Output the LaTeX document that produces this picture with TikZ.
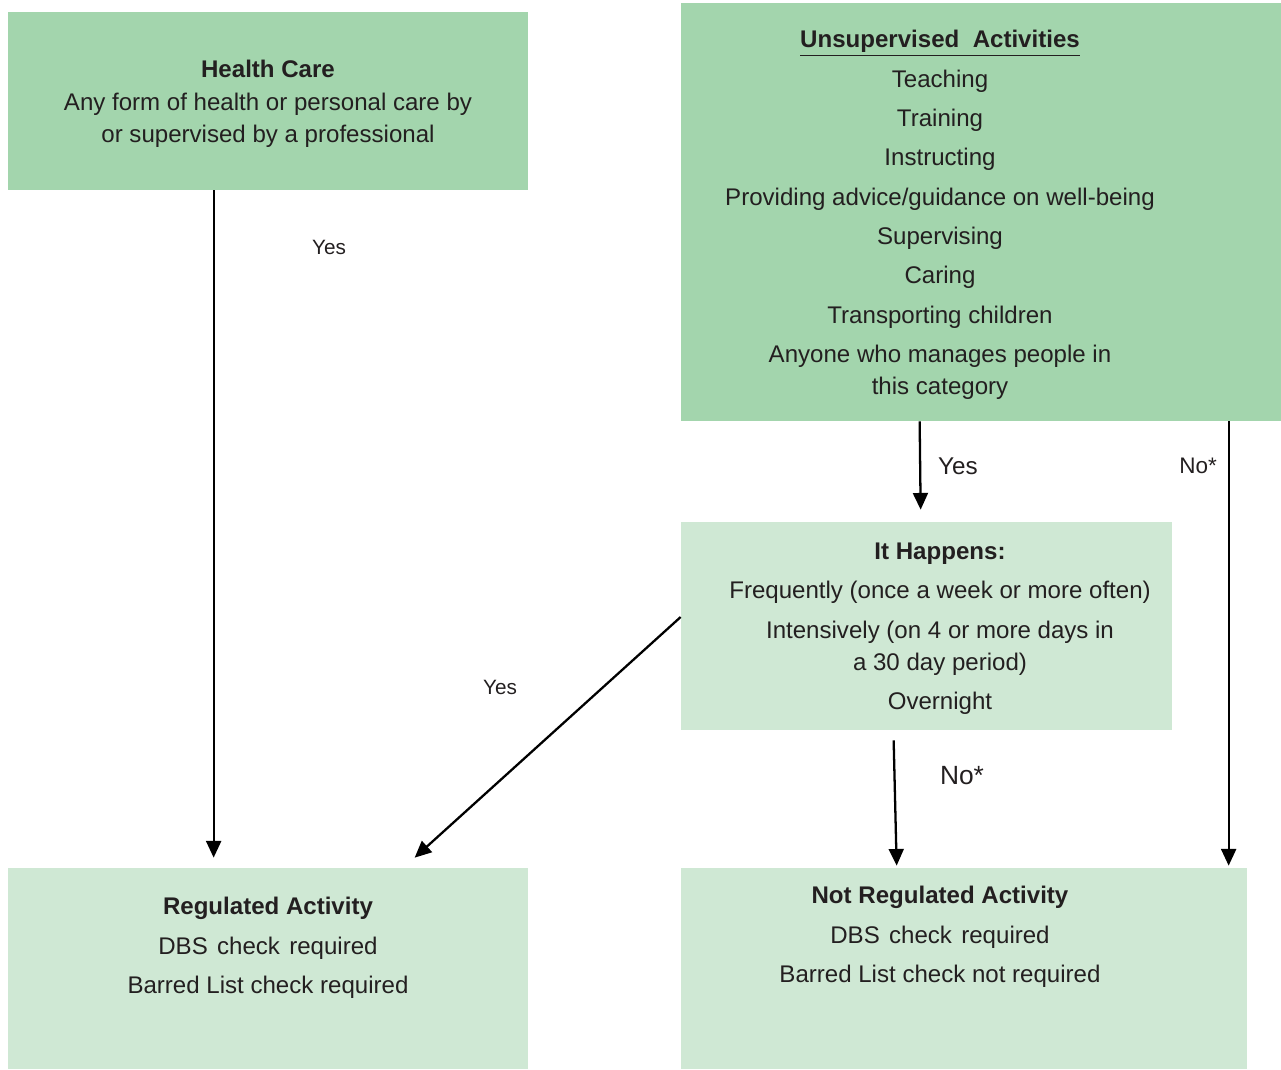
\documentclass[tikz,border=0pt]{standalone}
\usepackage{fontspec}
\setmainfont{Liberation Sans}
\usetikzlibrary{arrows.meta,calc,fit}
\definecolor{boxdark}{RGB}{163,213,173}
\definecolor{boxlight}{RGB}{207,232,212}
\definecolor{inkgrey}{RGB}{35,31,32}

\begin{document}
\begin{tikzpicture}[x=0.02cm,y=-0.02cm,
  darkbox/.style={fill=boxdark,inner sep=0pt},
  lightbox/.style={fill=boxlight,inner sep=0pt},
  boxtext/.style={align=center,text=inkgrey,font=\fontsize{13.7}{18.4}\selectfont},
  flow/.style={-{Triangle[length=9.5pt,width=8.5pt]},line width=1.3pt},
  answer/.style={text=inkgrey,font=\fontsize{#1}{#1}\selectfont}]
\useasboundingbox (0,0) rectangle (1281,1069);
% boxes
\node [darkbox,fit={(8,12) (528,190)}] (hc) {};
\node [darkbox,fit={(681,3) (1281,421)}] (ua) {};
\node [lightbox,fit={(681,522) (1172,730)}] (ih) {};
\node [lightbox,fit={(8,868) (528,1069)}] (reg) {};
\node [lightbox,fit={(681,868) (1247,1069)}] (nreg) {};
% texts
\node [boxtext] (hctext) at (268,104) {\textbf{Health Care}\\
  Any form of health or personal care by\\ or supervised by a professional};
\node [boxtext] (uatext) at (940,215) {\textbf{\underline{Unsupervised\ \ Activities}}\\[4pt]
  Teaching\\[4pt] Training\\[4pt] Instructing\\[4pt]
  Providing advice/guidance on well-being\\[4pt] Supervising\\[4pt]
  Caring\\[4pt] Transporting children\\[4pt]
  Anyone who manages people in\\ this category};
\node [boxtext] (ihtext) at (940,629) {\textbf{It Happens:}\\[4pt]
  Frequently (once a week or more often)\\[4pt]
  Intensively (on 4 or more days in\\ a 30 day period)\\[4pt] Overnight};
\node [boxtext] (regtext) at (268,948) {\textbf{Regulated Activity}\\[4pt]
  DBS \hspace{1.5pt}check \hspace{1.5pt}required\\[4pt] Barred List check required};
\node [boxtext] (nregtext) at (940,937) {\textbf{Not Regulated Activity}\\[4pt]
  DBS \hspace{1.5pt}check \hspace{1.5pt}required\\[4pt] Barred List check not required};
% arrows
\draw [flow] ($(hc.south west)+(206,0)$) -- ($(reg.north west)+(206,-10)$);
\draw [flow] ($(ua.south west)+(239,0)$) -- ($(ih.north west)+(240,-12)$);
\draw [flow] ($(ua.south west)+(548,0)$) -- ($(nreg.north west)+(548,-2)$);
\draw [flow] ($(ih.west)+(0,-9)$) -- ($(reg.north west)+(407,-10)$);
\draw [flow] ($(ih.south west)+(213,10)$) -- ($(nreg.north west)+(216,-2)$);
\node [answer=11.8] (yes1) at (329,247) {Yes};
\node [answer=13.8] (yes2) at (958,466) {Yes};
\node [answer=12.8] (no1) at (1198,466) {No*};
\node [answer=11.8] (yes3) at (500,687) {Yes};
\node [answer=15] (no2) at (962,776) {No*};
\end{tikzpicture}
\end{document}
